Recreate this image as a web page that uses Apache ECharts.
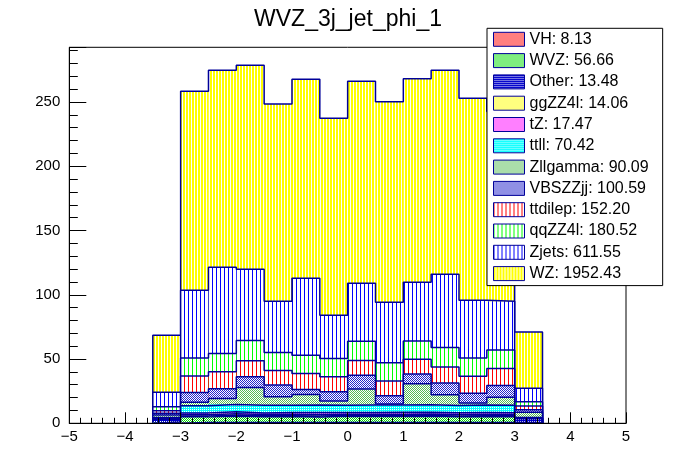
<!DOCTYPE html>
<html><head><meta charset="utf-8">
<script src="https://cdn.jsdelivr.net/npm/echarts@6/dist/echarts.min.js"></script>
<style>html,body{margin:0;padding:0;background:#fff}#c{width:696px;height:472px}</style>
</head><body><div id="c"></div>
<script>
// ---- data ----
const binEdges = [-3.5,-3,-2.5,-2,-1.5,-1,-0.5,0,0.5,1,1.5,2,2.5,3,3.5];
const sampleNames  = ['VH','WVZ','Other','ggZZ4l','tZ','ttll','Zllgamma','VBSZZjj','ttdilep','qqZZ4l','Zjets','WZ'];
const sampleTotals = ['8.13','56.66','13.48','14.06','17.47','70.42','90.09','100.59','152.20','180.52','611.55','1952.43'];
const VH       = [0.1,0.6,0.7,0.6,0.7,0.6,0.7,0.6,0.7,0.6,0.7,0.6,0.6,0.1];
const WVZ      = [1.0,4.4,4.8,4.5,4.6,4.3,4.7,4.6,4.5,4.8,4.4,4.6,4.5,0.5];
const Other    = [2.0,0.6,0.7,0.7,0.6,0.8,0.7,0.6,0.8,0.7,0.6,0.7,0.7,3.0];
const ggZZ4l   = [0.3,1.1,1.2,1.0,1.1,1.2,1.0,1.2,1.1,1.1,1.2,1.0,1.1,0.2];
const tZ       = [0.3,1.4,1.5,1.3,1.4,1.5,1.3,1.4,1.5,1.4,1.3,1.5,1.4,0.3];
const ttll     = [0.8,5.6,5.8,5.9,5.7,5.8,5.6,5.9,5.7,5.8,5.6,5.9,5.8,0.5];
const Zllgamma = [2.0,2.7,4.6,13.9,6.6,8.2,3.3,12.4,0.8,16.3,8.5,1.5,6.1,4.0];
const VBSZZjj  = [1.3,7.6,7.6,8.4,9.2,4.0,7.3,10.6,6.4,7.6,9.1,7.6,9.2,2.0];
const ttdilep  = [2.0,12.8,13.2,12.4,11.2,12.4,11.7,11.6,11.4,11.6,12.5,13.2,13.2,2.8];
const qqZZ4l   = [3.1,14.0,14.2,15.8,14.0,14.2,14.2,15.0,14.2,14.2,15.0,14.2,14.5,3.4];
const Zjets    = [11.2,52.7,67.1,55.3,39.8,59.8,33.5,45.0,47.1,45.6,57.1,44.9,37.8,10.4];
const WZ       = [44.4,154.9,153.3,158.8,153.6,154.9,153.4,157.2,156.1,158.5,158.7,157.2,147.8,43.8];
const xTicks = {min:-5, max:5, step:1};
const yTicks = {min:0, max:292.6, step:50};

// ---- styles ----
const FONT = '"Liberation Sans", Arial, Helvetica, sans-serif';
const EDGE = '#000099';
function pat(w,h,fn){const c=document.createElement('canvas');c.width=w;c.height=h;const g=c.getContext('2d');g.fillStyle='#fff';g.fillRect(0,0,w,h);fn(g);return {image:c,repeat:'repeat'};}
function vlines(col,pitch,lw){return pat(pitch,1,g=>{g.fillStyle=col;g.fillRect(0,0,lw,1);});}
function checker(col,dense){return pat(2,2,g=>{g.fillStyle=col;g.fillRect(0,0,1,1);g.fillRect(1,1,1,1);if(dense)g.fillRect(1,0,1,1);});}
const fills = [
  checker('#ff0000',false),   // VH
  checker('#00dd00',false),   // WVZ
  checker('#0000cc',true),    // Other
  checker('#ffff00',false),   // ggZZ4l
  checker('#ff00ff',false),   // tZ
  checker('#00ffff',true),    // ttll
  checker('#55bb55',false),   // Zllgamma
  checker('#2222cc',false),   // VBSZZjj
  vlines('#ff0000',4,1),      // ttdilep
  vlines('#00ff00',4,1),      // qqZZ4l
  vlines('#0000ff',4,1),      // Zjets
  vlines('#ffff00',3,2)       // WZ
];

const layers = [VH,WVZ,Other,ggZZ4l,tZ,ttll,Zllgamma,VBSZZjj,ttdilep,qqZZ4l,Zjets,WZ];
const cum = [];
layers.forEach((arr,k)=>{cum.push(arr.map((v,i)=>(k?cum[k-1][i]:0)+v));});

const labelOf = k => sampleNames[k]+': '+sampleTotals[k];
const series = [];
for (let k = layers.length-1; k >= 0; k--) {
  const zBase = 2 + (layers.length-1-k)*2;
  const data = cum[k].map((top,i)=>[binEdges[i],binEdges[i+1],top]);
  const f = fills[k];
  series.push({
    type:'custom', name: labelOf(k), z:zBase, silent:true, animation:false,
    itemStyle:{color:f, borderColor:EDGE, borderWidth:1},
    data:data,
    renderItem:(params,api)=>{
      const p0 = api.coord([api.value(0), api.value(2)]);
      const p1 = api.coord([api.value(1), 0]);
      return {type:'rect', shape:{x:p0[0], y:p0[1], width:p1[0]-p0[0], height:p1[1]-p0[1]},
              style:{fill:f, stroke:null}};
    }
  });
  const pts = [[binEdges[0],0]];
  cum[k].forEach((top,i)=>{pts.push([binEdges[i],top]);pts.push([binEdges[i+1],top]);});
  pts.push([binEdges[binEdges.length-1],0]);
  series.push({
    type:'line', z:zBase+1, silent:true, animation:false, symbol:'none',
    lineStyle:{color:EDGE, width:1.5}, data:pts
  });
}

const chart = echarts.init(document.getElementById('c'), null, {renderer:'canvas'});
chart.setOption({
  animation:false,
  backgroundColor:'#fff',
  title:{text:'WVZ_3j_jet_phi_1', left:'center', top:3,
    textStyle:{fontFamily:FONT, fontSize:23, fontWeight:'normal', color:'#000'}},
  grid:{left:69.3, right:70, top:47.3, bottom:48.7, show:true, borderColor:'#000', borderWidth:1,
    backgroundColor:'transparent', z:60},
  legend:{
    orient:'vertical', left:487, top:28.3, icon:'rect', itemWidth:31, itemHeight:14, itemGap:5.3,
    padding:[3,14,4,6], borderColor:'#000', borderWidth:1, backgroundColor:'#fff', z:70,
    selectedMode:false,
    itemStyle:{borderColor:EDGE, borderWidth:1},
    textStyle:{fontFamily:FONT, fontSize:16, color:'#000'},
    data: sampleNames.map((n,k)=>labelOf(k))
  },
  xAxis:{type:'value', min:xTicks.min, max:xTicks.max, interval:xTicks.step, z:60,
    axisLine:{onZero:false, lineStyle:{color:'#000', width:1}},
    axisTick:{inside:true, length:11, lineStyle:{color:'#000'}},
    minorTick:{show:true, splitNumber:5, length:5.5, lineStyle:{color:'#000'}},
    splitLine:{show:false},
    axisLabel:{margin:6, fontFamily:FONT, fontSize:15, color:'#000',
      formatter:v=> v<0 ? '\u2212'+(-v) : String(v)}
  },
  yAxis:{type:'value', min:yTicks.min, max:yTicks.max, interval:yTicks.step, z:60,
    axisLine:{show:true, onZero:false, lineStyle:{color:'#000', width:1}},
    axisTick:{inside:true, length:17, lineStyle:{color:'#000'}},
    minorTick:{show:true, splitNumber:5, length:8.5, lineStyle:{color:'#000'}},
    splitLine:{show:false},
    axisLabel:{margin:9, fontFamily:FONT, fontSize:15, color:'#000',
      formatter:v=> (Math.abs(v % 50) < 1e-6) ? String(v) : ''}
  },
  series:series
});
</script></body></html>
